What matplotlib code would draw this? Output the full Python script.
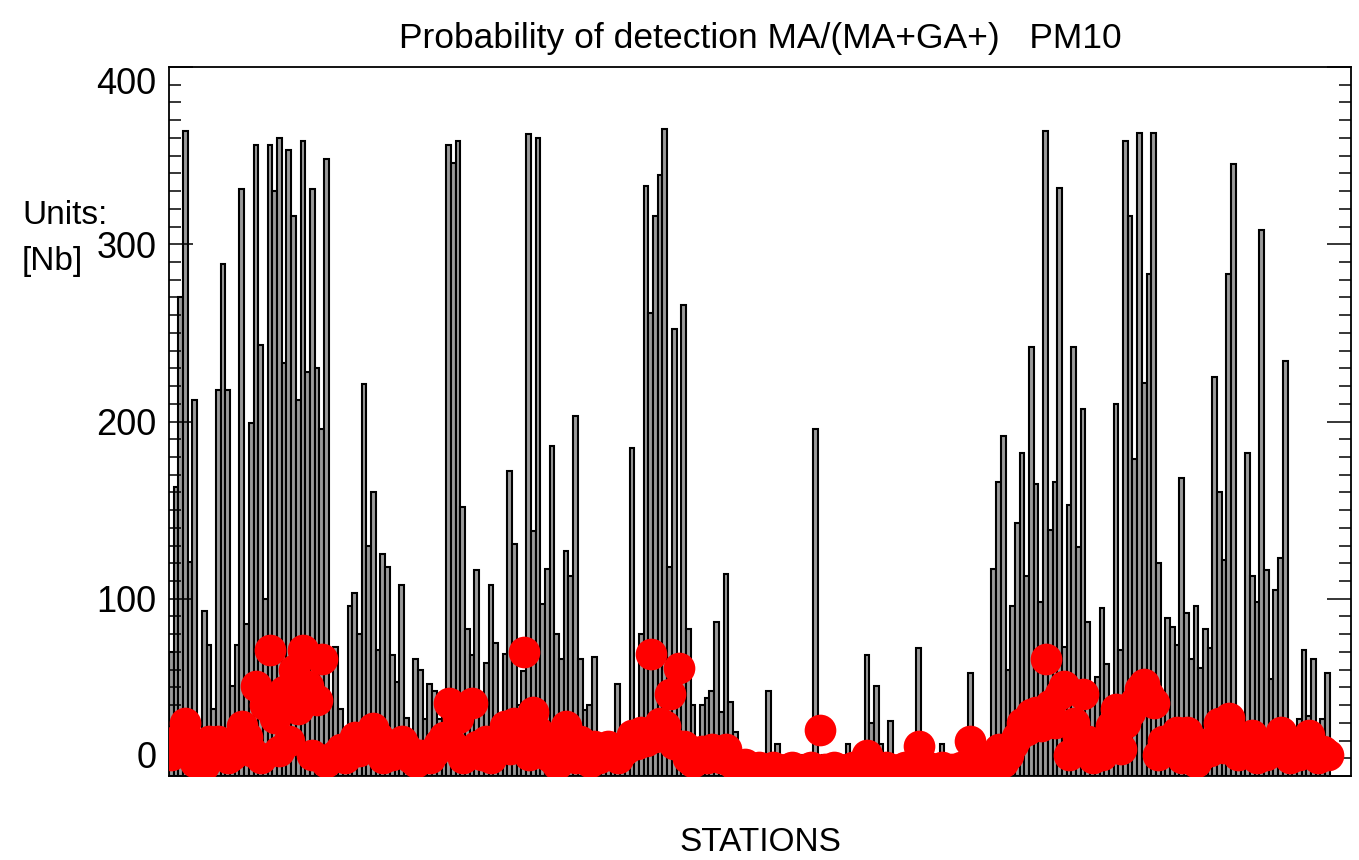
import numpy as np
import matplotlib
matplotlib.use("Agg")
import matplotlib.pyplot as plt
from matplotlib.ticker import MultipleLocator

# Number of detections per station (bars)
station_counts = [
    70, 163, 270, 364, 121, 212, 15, 93, 74, 38,
    218, 289, 218, 51, 74, 331, 86, 199, 356, 243,
    100, 356, 330, 360, 233, 353, 316, 212, 358, 228,
    331, 230, 196, 348, 40, 73, 38, 15, 96, 103,
    80, 221, 130, 160, 71, 125, 118, 68, 53, 108,
    33, 20, 66, 60, 32, 52, 48, 32, 42, 356,
    346, 358, 152, 83, 68, 116, 39, 64, 108, 75,
    20, 69, 172, 131, 40, 59, 362, 138, 360, 97,
    117, 186, 80, 66, 127, 113, 203, 66, 37, 40,
    67, 20, 15, 10, 15, 52, 12, 20, 185, 25,
    80, 333, 261, 316, 339, 365, 118, 252, 40, 266,
    83, 40, 20, 40, 44, 48, 87, 36, 114, 42,
    25, 8, 6, 5, 6, 3, 3, 48, 3, 18,
    3, 3, 3, 3, 12, 4, 3, 196, 5, 12,
    4, 12, 5, 3, 18, 5, 3, 5, 68, 30,
    51, 18, 5, 31, 4, 5, 3, 3, 3, 72,
    3, 3, 5, 12, 18, 4, 3, 3, 5, 8,
    58, 5, 3, 3, 10, 117, 166, 192, 60, 96,
    143, 182, 113, 242, 165, 98, 364, 139, 166, 332,
    73, 153, 242, 129, 207, 87, 40, 56, 95, 63,
    40, 210, 71, 358, 316, 179, 363, 222, 283, 363,
    120, 40, 89, 84, 74, 168, 92, 66, 96, 61,
    83, 72, 225, 160, 122, 283, 345, 30, 30, 182,
    113, 98, 308, 116, 55, 105, 123, 234, 30, 25,
    32, 71, 34, 66, 25, 32, 58,
]

# MA detections per station (red dots)
ma_counts = [
    12, 18, 22, 30, 14, 8, 10, 6, 20, 15,
    20, 18, 10, 12, 16, 28, 22, 14, 51, 10,
    40, 71, 33, 14, 48, 20, 60, 38, 71, 51,
    12, 43, 66, 8, 10, 12, 15, 10, 17, 22,
    14, 18, 20, 27, 22, 10, 15, 12, 14, 20,
    16, 10, 8, 12, 12, 10, 14, 18, 22, 41,
    17, 33, 10, 12, 41, 17, 12, 20, 10, 14,
    18, 28, 15, 30, 20, 70, 12, 36, 25, 20,
    12, 10, 7, 16, 28, 14, 10, 20, 12, 8,
    17, 10, 12, 17, 12, 10, 14, 16, 23, 18,
    25, 20, 69, 22, 30, 28, 46, 18, 61, 17,
    10, 8, 12, 14, 10, 15, 12, 10, 15, 8,
    6, 5, 7, 5, 4, 5, 3, 4, 5, 4,
    3, 4, 5, 4, 3, 4, 5, 4, 26, 4,
    3, 5, 4, 3, 4, 5, 4, 3, 12, 5,
    4, 3, 5, 4, 3, 4, 5, 4, 3, 17,
    4, 5, 3, 4, 5, 3, 4, 3, 5, 4,
    20, 4, 5, 3, 8, 10, 15, 8, 12, 18,
    22, 30, 26, 35, 36, 28, 66, 40, 30, 46,
    51, 12, 30, 22, 46, 20, 10, 15, 12, 18,
    28, 38, 15, 30, 36, 42, 49, 52, 45, 41,
    12, 20, 15, 18, 25, 10, 25, 15, 8, 12,
    18, 14, 20, 30, 16, 33, 22, 12, 16, 14,
    23, 10, 15, 12, 18, 14, 25, 20, 10, 14,
    12, 20, 23, 15, 10, 14, 12,
]

y_ticks = [0, 100, 200, 300, 400]

stations = np.arange(1, len(station_counts) + 1)

plt.rcParams['font.family'] = ['Liberation Sans', 'DejaVu Sans']

fig = plt.figure(figsize=(13.59, 8.6), dpi=100)
ax = fig.add_axes([169 / 1359, 1 - 776 / 860, (1351 - 169) / 1359, (776 - 67) / 860])

# bars for all detections, red dots for MA
ax.bar(stations, station_counts, width=1.0, color='#9a9a9a',
       edgecolor='black', linewidth=1.5)
ax.scatter(stations, ma_counts, s=520, color='red', linewidths=0, zorder=3)

ax.set_xlim(0.5, 252)
ax.set_ylim(0, 400)

ax.set_xticks([])
ax.set_yticks(y_ticks)
ax.yaxis.set_minor_locator(MultipleLocator(10))
ax.tick_params(axis='y', which='both', direction='in', left=True, right=True,
               labelsize=26, pad=9, width=1.1, color='black')
ax.tick_params(axis='y', which='major', length=17)
ax.tick_params(axis='y', which='minor', length=8.5)

# keep the end labels inside the frame
ticks = ax.yaxis.get_major_ticks()
ticks[0].label1.set_va('bottom')
ticks[-1].label1.set_va('top')

for spine in ax.spines.values():
    spine.set_linewidth(1.3)
    spine.set_color('black')

ax.set_title('Probability of detection MA/(MA+GA+)   PM10', fontsize=25.5, pad=14)
ax.set_xlabel('STATIONS', fontsize=24, labelpad=37)

fig.text(22 / 1359, 1 - 215 / 860, 'Units:', fontsize=24, va='center', ha='left')
fig.text(22 / 1359, 1 - 262 / 860, '[Nb]', fontsize=24, va='center', ha='left')

fig.savefig('out.png', dpi=100)
